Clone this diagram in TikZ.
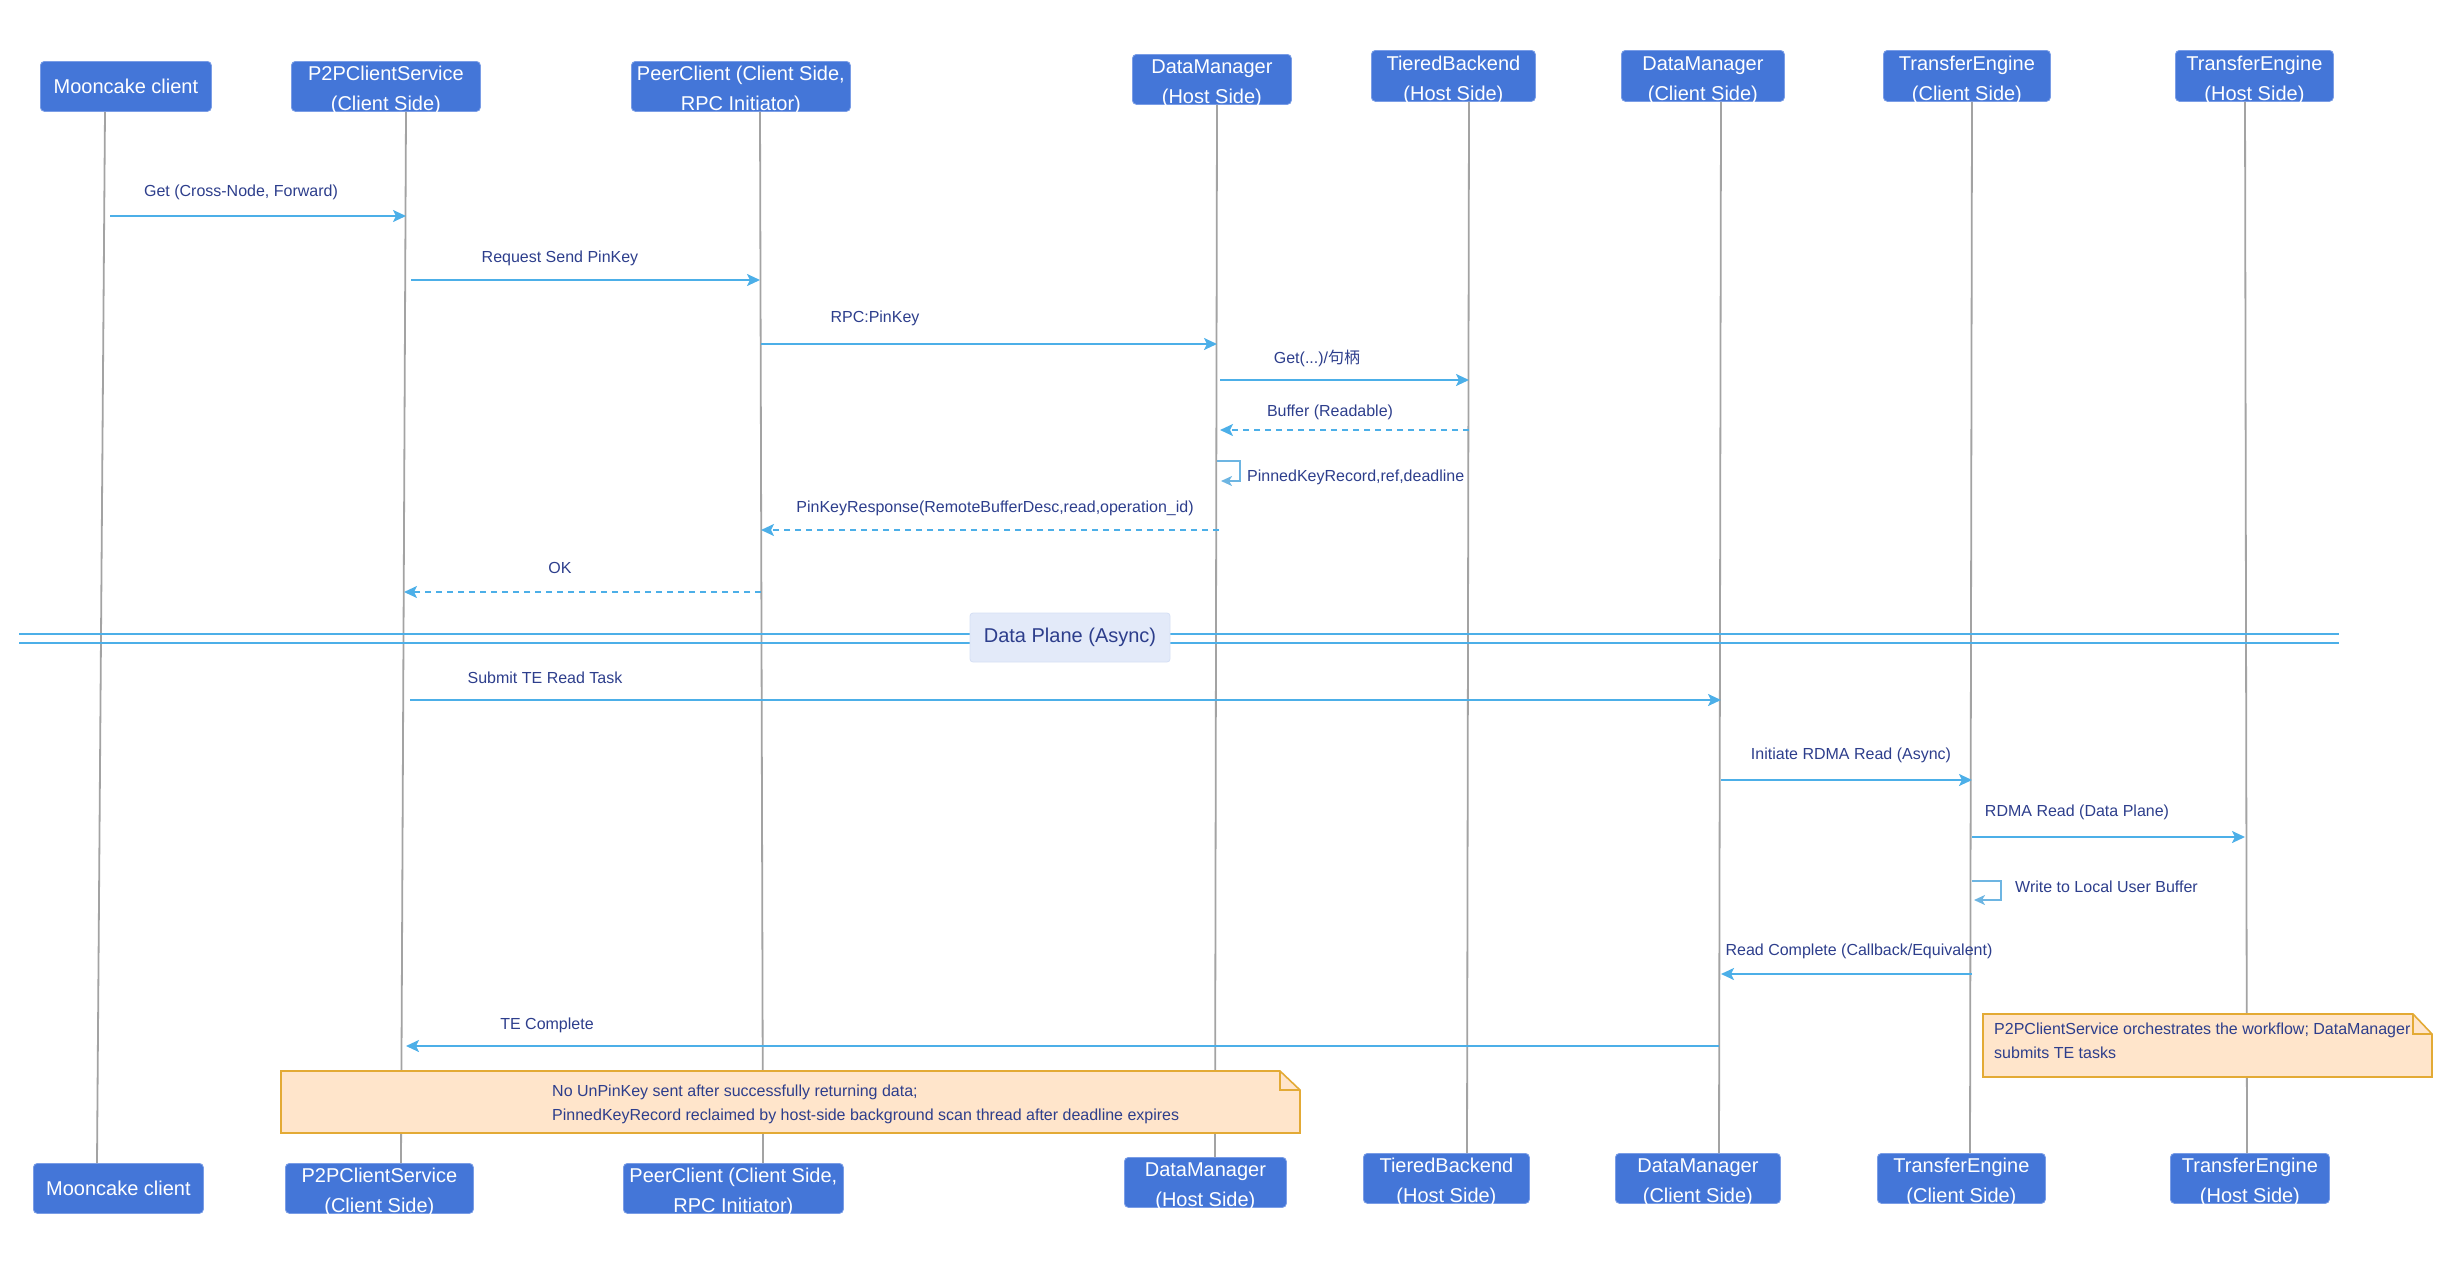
\documentclass[tikz,border=0pt]{standalone}
\usepackage{fontspec}
\setmainfont{Liberation Sans}
\newfontfamily\cjk{Noto Sans CJK SC}
\usetikzlibrary{arrows.meta,calc}

\definecolor{boxblue}{HTML}{4476D8}
\definecolor{boxedge}{HTML}{7A9DE6}
\definecolor{txtnavy}{HTML}{2D3E8C}
\definecolor{arrowblue}{HTML}{4CAFE8}
\definecolor{loopblue}{HTML}{6DB5E2}
\definecolor{lifegray}{HTML}{A3A3A3}
\definecolor{notefill}{HTML}{FFE5CB}
\definecolor{notedraw}{HTML}{E3AA35}
\definecolor{planefill}{HTML}{E3EAF9}
\definecolor{planeedge}{HTML}{D5DFF4}

\newcommand\twoline[2]{\rule{0pt}{19pt}#1\\\smash{#2}}

\begin{document}
\begin{tikzpicture}[x=1pt,y=-1pt,
  actor/.style={draw=boxedge, line width=0.8pt, fill=boxblue, rounded corners=4pt,
    text=white, font=\fontsize{20}{30}\selectfont, align=center, inner sep=0pt,
    anchor=north west},
  lbl/.style={text=txtnavy, font=\fontsize{16}{19}\selectfont, inner sep=0pt},
  notetxt/.style={text=txtnavy, font=\fontsize{16}{24}\selectfont, inner sep=0pt, align=left, anchor=west},
  life/.style={draw=lifegray, line width=1.8pt},
  msg/.style={draw=arrowblue, line width=2.2pt, -{Stealth[length=13pt,width=12pt,inset=3pt]}},
  ret/.style={msg, dash pattern=on 6pt off 5pt},
  selfmsg/.style={draw=loopblue, line width=2pt, -{Stealth[length=11pt,width=10pt,inset=3pt]}},
  divider/.style={draw=arrowblue, line width=2pt},
  notebox/.style={fill=notefill, draw=notedraw, line width=1.6pt, line join=miter},
]
\useasboundingbox (0,0) rectangle (2450,1280);

% ---------- top actors ----------
\node[actor, minimum width=171pt, minimum height=50pt] (t1) at (40,61) {Mooncake client};
\node[actor, minimum width=189pt, minimum height=50pt] (t2) at (291,61) {\twoline{P2PClientService}{(Client Side)}};
\node[actor, minimum width=219pt, minimum height=50pt] (t3) at (631,61) {\twoline{PeerClient (Client Side,}{RPC Initiator)}};
\node[actor, minimum width=159pt, minimum height=50pt] (t4) at (1132,54) {\twoline{DataManager}{(Host Side)}};
\node[actor, minimum width=164pt, minimum height=51pt] (t5) at (1371,50) {\twoline{TieredBackend}{(Host Side)}};
\node[actor, minimum width=163pt, minimum height=51pt] (t6) at (1621,50) {\twoline{DataManager}{(Client Side)}};
\node[actor, minimum width=167pt, minimum height=51pt] (t7) at (1883,50) {\twoline{TransferEngine}{(Client Side)}};
\node[actor, minimum width=158pt, minimum height=51pt] (t8) at (2175,50) {\twoline{TransferEngine}{(Host Side)}};

% ---------- bottom actors ----------
\node[actor, minimum width=170pt, minimum height=50pt] (b1) at (33,1163) {Mooncake client};
\node[actor, minimum width=188pt, minimum height=50pt] (b2) at (285,1163) {\twoline{P2PClientService}{(Client Side)}};
\node[actor, minimum width=220pt, minimum height=50pt] (b3) at (623,1163) {\twoline{PeerClient (Client Side,}{RPC Initiator)}};
\node[actor, minimum width=162pt, minimum height=50pt] (b4) at (1124,1157) {\twoline{DataManager}{(Host Side)}};
\node[actor, minimum width=166pt, minimum height=50pt] (b5) at (1363,1153) {\twoline{TieredBackend}{(Host Side)}};
\node[actor, minimum width=165pt, minimum height=50pt] (b6) at (1615,1153) {\twoline{DataManager}{(Client Side)}};
\node[actor, minimum width=168pt, minimum height=50pt] (b7) at (1877,1153) {\twoline{TransferEngine}{(Client Side)}};
\node[actor, minimum width=159pt, minimum height=50pt] (b8) at (2170,1153) {\twoline{TransferEngine}{(Host Side)}};

% ---------- lifeline end points ----------
\coordinate (l1t) at (t1.south west -| 105,0);  \coordinate (l1b) at (b1.north west -| 97,0);
\coordinate (l2t) at (t2.south west -| 406,0);  \coordinate (l2b) at (b2.north west -| 401,0);
\coordinate (l3t) at (t3.south west -| 760,0);  \coordinate (l3b) at (b3.north west -| 763,0);
\coordinate (l4t) at (t4.south west -| 1217,0); \coordinate (l4b) at (b4.north west -| 1215,0);
\coordinate (l5t) at (t5.south west -| 1469,0); \coordinate (l5b) at (b5.north west -| 1467,0);
\coordinate (l6t) at (t6.south west -| 1721,0); \coordinate (l6b) at (b6.north west -| 1719,0);
\coordinate (l7t) at (t7.south west -| 1972,0); \coordinate (l7b) at (b7.north west -| 1970,0);
\coordinate (l8t) at (t8.south west -| 2245,0); \coordinate (l8b) at (b8.north west -| 2247,0);

\foreach \i in {1,...,8} { \draw[life] (l\i t) -- (l\i b); }

% ---------- message rows ----------
\coordinate (y1) at (0,216);
\coordinate (y2) at (0,280);
\coordinate (y3) at (0,344);
\coordinate (y4) at (0,380);
\coordinate (y5) at (0,430);
\coordinate (y6) at (0,461);
\coordinate (y7) at (0,530);
\coordinate (y8) at (0,592);
\coordinate (y9) at (0,700);
\coordinate (y10) at (0,780);
\coordinate (y11) at (0,837);
\coordinate (y12) at (0,881);
\coordinate (y13) at (0,974);
\coordinate (y14) at (0,1046);

% ---------- control plane ----------
\draw[msg] ($(l1t |- y1)+(5,0)$) -- (l2t |- y1);
\node[lbl] (m1) at (241,192) {Get (Cross-Node, Forward)};

\draw[msg] ($(l2t |- y2)+(5,0)$) -- (l3t |- y2);
\node[lbl] (m2) at (560,258) {Request Send PinKey};

\draw[msg] ($(l3t |- y3)+(1,0)$) -- (l4t |- y3);
\node[lbl] (m3) at (875,318) {RPC:PinKey};

\draw[msg] ($(l4t |- y4)+(3,0)$) -- (l5t |- y4);
\node[lbl] (m4) at (1317,358) {Get(...)/{\cjk 句柄}};

\draw[ret] (l5t |- y5) -- ($(l4t |- y5)+(3,0)$);
\node[lbl] (m5) at (1330,412) {Buffer (Readable)};

\draw[selfmsg] (l4t |- y6) -- ++(23,0) -- ++(0,20) -- ++(-19,0);
\node[lbl, anchor=west] (m6) at (1247,477) {PinnedKeyRecord,ref,deadline};

\draw[ret] ($(l4t |- y7)+(2,0)$) -- ($(l3t |- y7)+(1,0)$);
\node[lbl] (m7) at (995,508) {PinKeyResponse(RemoteBufferDesc,read,operation\_id)};

\draw[ret] ($(l3t |- y8)+(1,0)$) -- ($(l2t |- y8)+(-2,0)$);
\node[lbl] (m8) at (560,568) {OK};

% ---------- divider ----------
\draw[divider] (19,634) -- (2339,634);
\draw[divider] (19,643) -- (2339,643);
\node[fill=planefill, draw=planeedge, line width=0.8pt, rounded corners=3pt,
      minimum width=200pt, minimum height=49pt, inner sep=0pt,
      text=txtnavy, font=\fontsize{20}{24}\selectfont] (dp) at (1070,637.5) {Data Plane (Async)};

% ---------- data plane ----------
\draw[msg] ($(l2t |- y9)+(4,0)$) -- (l6t |- y9);
\node[lbl] (m9) at (545,678) {Submit TE Read Task};

\draw[msg] (l6t |- y10) -- (l7t |- y10);
\node[lbl] (m10) at (1851,755) {Initiate RDMA Read (Async)};

\draw[msg] (l7t |- y11) -- (l8t |- y11);
\node[lbl] (m11) at (2077,812) {RDMA Read (Data Plane)};

\draw[selfmsg] (l7t |- y12) -- ++(29,0) -- ++(0,19) -- ++(-27,0);
\node[lbl, anchor=west] (m12) at (2015,887) {Write to Local User Buffer};

\draw[msg] (l7t |- y13) -- (l6t |- y13);
\node[lbl] (m13) at (1859,951) {Read Complete (Callback/Equivalent)};

\draw[msg] ($(l6t |- y14)+(-2,0)$) -- (l2t |- y14);
\node[lbl] (m14) at (547,1025) {TE Complete};

% ---------- notes ----------
\draw[notebox] (1983,1014) -- (2413,1014) -- (2432,1034) -- (2432,1077) -- (1983,1077) -- cycle;
\draw[notebox, fill=none] (2413,1014) -- (2413,1034) -- (2432,1034);
\node[notetxt] (n1) at (1994,1041) {P2PClientService orchestrates the workflow; DataManager\\submits TE tasks};

\draw[notebox] (281,1071) -- (1280,1071) -- (1300,1090) -- (1300,1133) -- (281,1133) -- cycle;
\draw[notebox, fill=none] (1280,1071) -- (1280,1090) -- (1300,1090);
\node[notetxt] (n2) at (552,1104) {No UnPinKey sent after successfully returning data;\\PinnedKeyRecord reclaimed by host-side background scan thread after deadline expires};

\end{tikzpicture}
\end{document}
